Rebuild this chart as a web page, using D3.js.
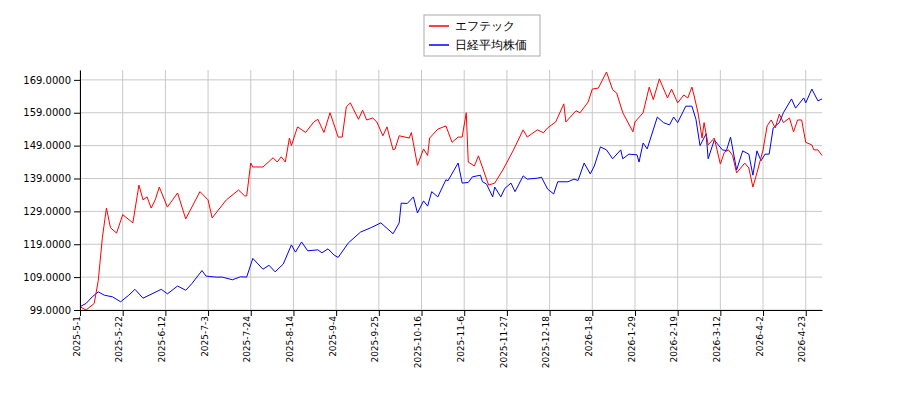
<!DOCTYPE html>
<html><head><meta charset="utf-8">
<script src="https://cdn.jsdelivr.net/npm/d3@7.9.0/dist/d3.min.js"></script>
<style>body{margin:0;background:#fff}text{font-family:"DejaVu Sans",sans-serif}</style>
</head><body><svg id="chart" width="900" height="400"></svg>
<script>
// day offsets from 2025-5-1 and values
const redDays = [0,3,7,9,11,13,15,18,21,25,26,29,31,33,35,37,39,43,48,52,59,63,65,72,78,81,82,84,85,90,95,97,99,101,103,104,107,111,115,117,120,123,127,129,131,133,137,139,141,144,146,149,151,154,155,157,162,163,166,169,171,172,176,180,183,186,188,190,191,194,196,201,204,208,213,218,220,225,228,230,234,238,239,244,246,250,252,255,259,262,264,267,272,273,277,280,282,285,289,291,294,297,299,301,302,304,306,307,309,312,315,317,319,321,323,327,329,331,333,336,338,340,342,344,346,349,351,353,355,357,360,361,363,365];
const redVals = [100,99,101,108,121,130,124,122.4,128,126,125.5,137,132.5,133.4,130,132.5,136.4,130.3,134.6,126.7,135,132.5,127,132.5,135.5,133.7,133.7,143.7,142.5,142.5,145.3,144,145.6,144,151.3,149,154.7,153,156.2,157,153,159,151.6,151.6,160.8,162,157,159.8,156.8,157.4,156.2,152,154.7,147.7,148,152,151.3,153,143,148,146,151.3,154,155,150,151.6,151.6,159,144,142.8,145.9,137,137.6,141.6,147.4,153.8,151.6,153.8,152.9,154.4,156.2,161.7,156.2,159.6,159,162.3,166.2,166.5,171.4,166,165,159,153.2,156.2,159,166.8,163,169.3,163.5,166.2,162,164.4,163.5,166.8,164.4,159,151.3,156,149.2,151.3,143.4,147,147.7,146,140.7,143.7,142.2,136.4,140.7,147.7,155,156.8,154.4,158.6,156,157.4,153.2,156.8,156.8,150,149.2,147.7,147.7,146];
const blueDays = [0,3,6,9,12,16,20,24,27,31,33,40,43,48,52,55,60,62,67,70,75,79,82,85,90,93,96,100,104,106,109,112,117,119,122,125,127,132,138,143,148,154,157,158,161,164,166,169,171,173,176,180,181,186,188,191,193,197,198,200,203,204,207,209,212,214,218,220,225,227,230,233,235,240,243,245,248,251,253,256,259,262,266,267,270,274,275,277,279,284,287,290,292,294,298,301,303,305,308,309,312,316,318,320,323,326,329,331,333,335,337,339,341,344,346,350,352,356,357,360,363,365];
const blueVals = [100,101,103,104.5,103.5,103,101.5,103.5,105.3,102.6,103.2,105.3,103.9,106.3,105,107,111,109.3,109,109,108.2,109.1,109,114.7,111.4,112.6,110.6,113,118.8,116.6,119.7,117,117.3,116.4,117.6,115.7,115,119.4,122.7,124,125.5,122.2,125.5,131.5,131.4,133.4,128.5,132.2,130.6,135,133.4,138.6,138.3,143.7,137.6,137.8,139.5,140,138,137.3,133.4,136.4,133.4,136,137.6,135,139.8,138.8,139.1,139.4,135.8,134.3,138,138,138.8,138.4,143.7,140.4,142.8,148.6,147.7,145,147.7,145,146.4,146.2,144,149.8,148,157.7,156,155.3,157.7,156,161,161,157,149,152.6,145,150.7,147.7,147.5,151.6,141.6,147.4,146.4,140,147.4,144.4,146.4,146.4,154.4,156,159,163.2,160.4,163.5,162,166.2,162.6,163.2];
const yTicks = [99,109,119,129,139,149,159,169];
const seriesNames = ["エフテック","日経平均株価"];
const seriesColors = ["#ff0000","#0000ff"];

const start = new Date(2025,4,1);
const svg = d3.select("#chart");
const x = d3.scaleTime().domain([start, d3.timeDay.offset(start,365)]).range([80,822]);
const y = d3.scaleLinear().domain([99,172]).range([310,70]);
const xTicks = d3.range(0,360,21).map(d => d3.timeDay.offset(start,d));
const fmt = d => `${d.getFullYear()}-${d.getMonth()+1}-${d.getDate()}`;

// grid
svg.append("g").selectAll("line").data(xTicks).join("line")
  .attr("x1",d=>x(d)).attr("x2",d=>x(d)).attr("y1",70).attr("y2",310)
  .attr("stroke","#c8c8c8");
svg.append("g").selectAll("line").data(yTicks).join("line")
  .attr("x1",80).attr("x2",822).attr("y1",d=>y(d)).attr("y2",d=>y(d))
  .attr("stroke","#c8c8c8");

// lines
const line = d3.line().x(d=>x(d[0])).y(d=>y(d[1]));
const toPts = (days,vals) => days.map((d,i)=>[d3.timeDay.offset(start,d),vals[i]]);
svg.append("path").attr("d",line(toPts(blueDays,blueVals))).attr("fill","none").attr("stroke",seriesColors[1]).attr("stroke-width",1);
svg.append("path").attr("d",line(toPts(redDays,redVals))).attr("fill","none").attr("stroke",seriesColors[0]).attr("stroke-width",1);

// axes
const ya = svg.append("g").attr("transform","translate(80,0)")
  .call(d3.axisLeft(y).tickValues(yTicks).tickFormat(d3.format(".4f")).tickSizeOuter(0));
const xa = svg.append("g").attr("transform","translate(0,310)")
  .call(d3.axisBottom(x).tickValues(xTicks).tickFormat(fmt).tickSizeOuter(0));
xa.selectAll("text").attr("transform","rotate(-90)").attr("text-anchor","end")
  .attr("x",-6).attr("y",-4).attr("dy","0.35em");
[ya,xa].forEach(a=>{a.selectAll("text").attr("font-size",10).attr("fill","#000");a.select(".domain").attr("stroke","#000");});
xa.selectAll("text").attr("font-size",9);

// legend
const lg = svg.append("g").attr("transform","translate(424,15)");
lg.append("rect").attr("width",116).attr("height",41).attr("fill","#fff").attr("stroke","#aaa");
seriesNames.forEach((n,i)=>{
  lg.append("line").attr("x1",5).attr("x2",25).attr("y1",11+i*19).attr("y2",11+i*19).attr("stroke",seriesColors[i]).attr("stroke-width",1.5);
  lg.append("text").attr("x",31).attr("y",15+i*19).attr("font-size",12).attr("font-family","'Noto Sans CJK JP',sans-serif").text(n);
});
</script></body></html>
